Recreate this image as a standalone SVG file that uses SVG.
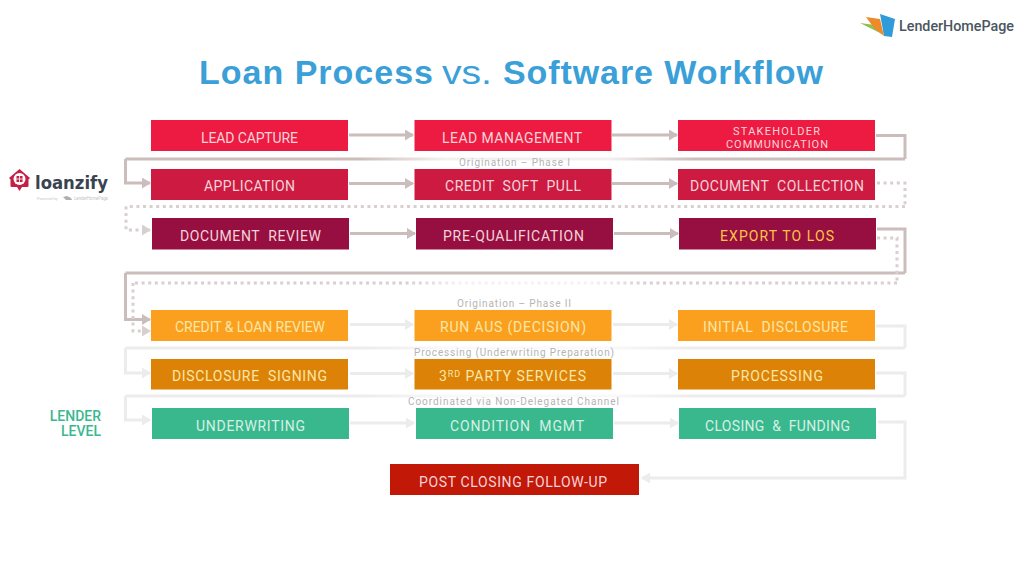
<svg xmlns="http://www.w3.org/2000/svg" width="1024" height="576" viewBox="0 0 1024 576">
<style>
text{font-family:"Roboto","Liberation Sans",sans-serif}
.n{font-size:14px;text-anchor:middle;fill:#f7d3da}
.o{fill:#fbe6a8}.g{fill:#d4f0e4}
.cap{font-size:10px;text-anchor:middle;fill:#b4b4b4}
.a,.ad,.l,.f{fill:none}
.a{stroke:#cbbdbb;stroke-width:3;marker-end:url(#ma)}
.ad{stroke:#d9cfcf;stroke-width:3;stroke-dasharray:3 3.6;marker-end:url(#mb)}
.l{stroke:#ececec;stroke-width:3;marker-end:url(#mc)}
.t{font-family:"Liberation Sans",Arial,sans-serif;font-size:34px;fill:#3b9fd8}
</style>
<defs>
<marker id="ma" viewBox="0 0 9 11" refX="8" refY="5.500" markerUnits="userSpaceOnUse" markerWidth="9" markerHeight="11" orient="auto"><path d="M0 0L9 5.500L0 11Z" fill="#cbbdbb"/></marker>
<marker id="mb" viewBox="0 0 9 11" refX="8" refY="5.500" markerUnits="userSpaceOnUse" markerWidth="9" markerHeight="11" orient="auto"><path d="M0 0L9 5.500L0 11Z" fill="#d9cfcf"/></marker>
<marker id="mc" viewBox="0 0 9 11" refX="8" refY="5.500" markerUnits="userSpaceOnUse" markerWidth="9" markerHeight="11" orient="auto"><path d="M0 0L9 5.500L0 11Z" fill="#ececec"/></marker>
<linearGradient id="fa" gradientUnits="userSpaceOnUse" x1="125" y1="0" x2="905" y2="0">
<stop offset=".3" stop-color="#cbbdbb"/><stop offset=".41" stop-color="#f4f0f0"/><stop offset=".62" stop-color="#f4f0f0"/><stop offset=".73" stop-color="#cbbdbb"/></linearGradient>
<linearGradient id="fb" gradientUnits="userSpaceOnUse" x1="133" y1="0" x2="897" y2="0">
<stop offset=".36" stop-color="#d9cfcf"/><stop offset=".43" stop-color="#f6f2f3"/><stop offset=".6" stop-color="#f6f2f3"/><stop offset=".67" stop-color="#d9cfcf"/></linearGradient>
<linearGradient id="fc" gradientUnits="userSpaceOnUse" x1="125" y1="0" x2="905" y2="0">
<stop offset=".3" stop-color="#ececec"/><stop offset=".42" stop-color="#f9f9f9"/><stop offset=".62" stop-color="#f9f9f9"/><stop offset=".73" stop-color="#ececec"/></linearGradient>
</defs>
<rect width="1024" height="576" fill="#fff"/>

<g id="connectors">
<path class="a" d="M349 135H413"/><path class="a" d="M612 135H677"/>
<path class="a" style="stroke:url(#fa);marker-end:none" d="M125.500 159H905"/>
<path class="a" style="marker-end:none" d="M876 135.500H905V159"/>
<path class="a" d="M125.500 159V183H150"/>
<path class="a" d="M349 183.500H413"/><path class="a" d="M612 183.500H677"/>
<path class="ad" style="marker-end:none" d="M877 183H905V206.500"/>
<path class="ad" style="marker-end:none" d="M905 206.500H126"/>
<path class="ad" d="M126 206.500V230H150"/>
<path class="a" d="M350 233.500H415"/><path class="a" d="M614 233.500H678"/>
<path class="a" style="marker-end:none" d="M877 229H905V273"/>
<path class="a" style="marker-end:none" d="M905 273H125.500"/>
<path class="a" d="M125.500 273V319.500H150"/>
<path class="ad" style="marker-end:none" d="M877 238H897V283"/>
<path class="ad" style="stroke:url(#fb);marker-end:none" d="M897 283H133"/>
<path class="ad" d="M133 283V331H150"/>
<path class="l" d="M350 324.500H413"/><path class="l" d="M613 324.500H677"/>
<path class="l" style="stroke:url(#fc);marker-end:none" d="M125.500 348H905"/>
<path class="l" style="marker-end:none" d="M876 326H905V348"/>
<path class="l" d="M125.500 348V373H150"/>
<path class="l" d="M350 373.500H413"/><path class="l" d="M613 373.500H677"/>
<path class="l" style="stroke:url(#fc);marker-end:none" d="M125.500 396H905"/>
<path class="l" style="marker-end:none" d="M876 373H905V396"/>
<path class="l" d="M125.500 396V420H150"/>
<path class="l" d="M350 423H414"/><path class="l" d="M614 423H678"/>
<path class="l" d="M878 422H905V478H642"/>
</g>

<text class="t" y="84"><tspan x="199" font-weight="700" textLength="234">Loan Process</tspan><tspan x="442" textLength="50" lengthAdjust="spacingAndGlyphs">vs.</tspan><tspan x="503" font-weight="700" textLength="320">Software Workflow</tspan></text>

<text class="cap" x="514.500" y="166" textLength="111">Origination – Phase I</text>
<text class="cap" x="514" y="307" textLength="114">Origination – Phase II</text>
<text class="cap" x="514" y="356" textLength="200">Processing (Underwriting Preparation)</text>
<text class="cap" x="513.500" y="405" textLength="211">Coordinated via Non-Delegated Channel</text>

<g id="lead-capture"><rect x="151" y="120" width="197" height="31" fill="#ed1b41"/><text class="n" x="249.500" y="142.500" textLength="97">LEAD CAPTURE</text></g>
<g id="lead-management"><rect x="414.500" y="120" width="197" height="31" fill="#ed1b41"/><text class="n" x="512" y="142.500" textLength="140">LEAD MANAGEMENT</text></g>
<g id="stakeholder"><rect x="678" y="120" width="197" height="31" fill="#ed1b41"/><text class="n" style="font-size:11px" x="776.500" y="135" textLength="87">STAKEHOLDER</text><text class="n" style="font-size:11px" x="777" y="148" textLength="102">COMMUNICATION</text></g>
<g id="application"><rect x="151" y="169" width="197" height="31" fill="#cd1a41"/><text class="n" x="249.500" y="191" textLength="91">APPLICATION</text></g>
<g id="credit-soft-pull"><rect x="414.500" y="169" width="197" height="31" fill="#cd1a41"/><text class="n" x="513" y="191" textLength="136" xml:space="preserve">CREDIT  SOFT  PULL</text></g>
<g id="document-collection"><rect x="678" y="169" width="197" height="31" fill="#cd1a41"/><text class="n" x="777" y="191" textLength="174" xml:space="preserve">DOCUMENT  COLLECTION</text></g>
<g id="document-review"><rect x="152" y="218" width="197" height="31.500" fill="#960f40"/><text class="n" x="250.500" y="241" textLength="141" xml:space="preserve">DOCUMENT  REVIEW</text></g>
<g id="pre-qualification"><rect x="416" y="218" width="197" height="31.500" fill="#960f40"/><text class="n" x="513.500" y="241" textLength="141">PRE-QUALIFICATION</text></g>
<g id="export-to-los"><rect x="679" y="218" width="197" height="31.500" fill="#960f40"/><text class="n" style="fill:#fdc548" x="777" y="241" textLength="114">EXPORT TO LOS</text></g>
<g id="credit-loan-review"><rect x="151" y="310" width="197" height="31" fill="#fba01e"/><text class="n o" x="250" y="332" textLength="150">CREDIT &amp; LOAN REVIEW</text></g>
<g id="run-aus"><rect x="414.500" y="310" width="197" height="31" fill="#fba01e"/><text class="n o" x="513" y="332" textLength="146">RUN AUS (DECISION)</text></g>
<g id="initial-disclosure"><rect x="678" y="310" width="197" height="31" fill="#fba01e"/><text class="n o" x="775.500" y="332" textLength="145" xml:space="preserve">INITIAL  DISCLOSURE</text></g>
<g id="disclosure-signing"><rect x="151" y="359" width="197" height="30.500" fill="#dc8207"/><text class="n o" x="249.500" y="381" textLength="155" xml:space="preserve">DISCLOSURE  SIGNING</text></g>
<g id="third-party"><rect x="414.500" y="359" width="197" height="30.500" fill="#dc8207"/><text class="n o" x="512.500" y="381" textLength="147">3<tspan font-size="9" dy="-4">RD</tspan><tspan dy="4"> PARTY SERVICES</tspan></text></g>
<g id="processing"><rect x="678" y="359" width="197" height="30.500" fill="#dc8207"/><text class="n o" x="777" y="381" textLength="92">PROCESSING</text></g>
<g id="underwriting"><rect x="152" y="408" width="197" height="31" fill="#39b88e"/><text class="n g" x="250.500" y="430.500" textLength="109">UNDERWRITING</text></g>
<g id="condition-mgmt"><rect x="416" y="408" width="197" height="31" fill="#39b88e"/><text class="n g" x="517" y="430.500" textLength="134" xml:space="preserve">CONDITION  MGMT</text></g>
<g id="closing-funding"><rect x="679" y="408" width="197" height="31" fill="#39b88e"/><text class="n g" x="777.500" y="430.500" textLength="145" xml:space="preserve">CLOSING  &amp;  FUNDING</text></g>
<g id="post-closing"><rect x="390" y="464" width="249" height="31" fill="#c21807"/><text class="n" x="513" y="486.500" textLength="188">POST CLOSING FOLLOW-UP</text></g>

<g id="lender-level"><text x="101" y="421" text-anchor="end" font-size="14" font-weight="500" fill="#39b88e">LENDER</text><text x="101" y="436" text-anchor="end" font-size="14" font-weight="500" fill="#39b88e">LEVEL</text></g>

<g id="loanzify">
<path d="M9 178L19.500 169L30 178L28.500 179.500V186Q28.500 187 27 187H22L19.500 191L17 187H12Q10.500 187 10.500 186V179.500Z" fill="#c51f46"/>
<circle cx="19.500" cy="179" r="6" fill="#fff"/>
<rect x="16.500" y="176" width="6" height="6" fill="#c51f46"/>
<path d="M19.500 176V182M16.500 179H22.500" stroke="#fff" stroke-width=".8"/>
<text x="35" y="189" style="font-family:'DejaVu Sans',sans-serif" font-size="18" font-weight="700" fill="#3a4350" textLength="73" lengthAdjust="spacingAndGlyphs">loanzify</text>
<text x="37" y="200" font-size="4" fill="#c8c8c8">Powered by</text>
<path d="M63 197L67 196L71 198L72 200H66Z" fill="#aab0b5"/>
<text x="74" y="200" font-size="4.500" fill="#c8c8c8" textLength="34">LenderHomePage</text>
</g>

<g id="lenderhomepage">
<path d="M860 23L875 25L884 35Z" fill="#8cc152"/>
<path d="M866 17L880 19L884 36L874 28Z" fill="#ef8a2a"/>
<path d="M880 14L895 19L892 37L884 36Z" fill="#2f9bd8"/>
<text x="899" y="31" font-size="14.500" font-weight="500" fill="#4a5560" textLength="115" lengthAdjust="spacingAndGlyphs">LenderHomePage</text>
</g>
</svg>
